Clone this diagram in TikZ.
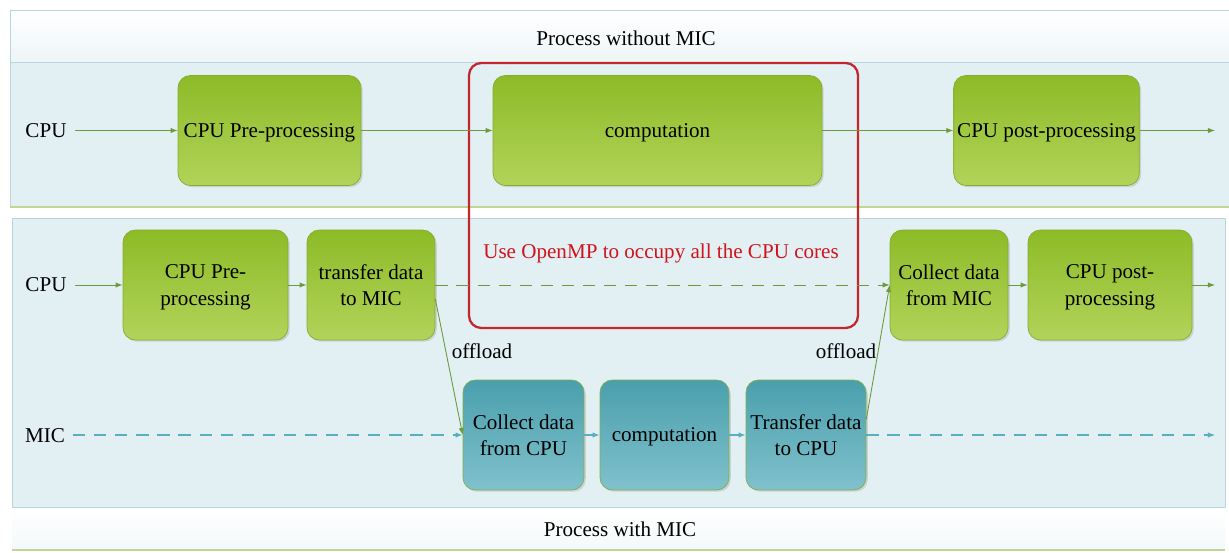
\documentclass[tikz,border=0pt]{standalone}
\usepackage{fontspec}
\setmainfont{Liberation Serif}
\usetikzlibrary{positioning, arrows.meta, calc, shadows}

\definecolor{panelblue}{HTML}{E2EFF3}
\definecolor{panelline}{HTML}{B9D5DD}
\definecolor{cpugreenA}{HTML}{8DBB27}
\definecolor{cpugreenB}{HTML}{B2D35A}
\definecolor{cpuborder}{HTML}{86AC2E}
\definecolor{micA}{HTML}{4A9FAD}
\definecolor{micB}{HTML}{80C1CC}
\definecolor{micborder}{HTML}{7FAF4A}
\definecolor{flowgreen}{HTML}{6E9A3C}
\definecolor{flowteal}{HTML}{58AFC0}
\definecolor{ompred}{HTML}{C2272D}
\definecolor{omptext}{HTML}{D0141E}

\tikzset{
    cpubox/.style={rounded corners=7pt, draw=cpuborder, top color=cpugreenA, bottom color=cpugreenB,
        align=center, minimum height=2.2cm, inner sep=2pt, text depth=0pt,
        drop shadow={opacity=0.25, shadow xshift=1pt, shadow yshift=-1pt}},
    micbox/.style={rounded corners=7pt, draw=micborder, top color=micA, bottom color=micB,
        align=center, minimum height=2.2cm, inner sep=2pt, text depth=0pt,
        drop shadow={opacity=0.25, shadow xshift=1pt, shadow yshift=-1pt}},
    gflow/.style={draw=flowgreen, line width=0.5pt, -{Latex[length=4pt, width=3pt]}},
    tflow/.style={draw=flowteal, line width=0.6pt, dash pattern=on 7pt off 5pt, -{Latex[length=4pt, width=3pt]}},
    rowlabel/.style={inner sep=0pt},
}

\begin{document}
\begin{tikzpicture}[x=0.02cm, y=-0.02cm, font=\fontsize{12}{15}\selectfont]
    \useasboundingbox (0,0) rectangle (1229,553);
    \fill[white] (0,0) rectangle (1229,553);

    % upper panel: process without MIC
    \fill[panelblue] (10,62) rectangle (1229,207);
    \shade[top color=white, bottom color=panelblue!60] (10,10) rectangle (1229,62);
    \draw[panelline] (10,10) rectangle (1229,207);
    \draw[panelline] (10,62) -- (1229,62);
    \draw[cpuborder!50, line width=1pt] (10,207) -- (1229,207);
    \node (title1) at (626,38) {Process without MIC};

    % lower panel: process with MIC
    \fill[panelblue] (12,218) rectangle (1225,507);
    \draw[panelline] (12,218) rectangle (1225,507);
    \shade[top color=white, bottom color=panelblue!40] (12,507) rectangle (1225,550);
    \draw[panelline] (12,507) -- (1225,507);
    \draw[cpuborder!50, line width=1pt] (12,550) -- (1225,550);
    \node (title2) at (620,529) {Process with MIC};

    % OpenMP frame
    \draw[ompred, line width=1.3pt, rounded corners=7pt] (469,63) rectangle (858,328);
    \node[text=omptext] (omp) at (661,253) {Use OpenMP to occupy all the CPU cores};

    % row without MIC
    \node[rowlabel] (cpu1) at (46,131) {CPU};
    \node[cpubox, minimum width=3.66cm] (pre1) at (269.5,130.5) {CPU Pre-processing};
    \node[cpubox, minimum width=6.58cm] (comp1) at (657.5,130.5) {computation};
    \node[cpubox, minimum width=3.62cm] (post1) at (1046.5,130.5) {CPU post-processing};
    \coordinate (start1) at (75,130.5);
    \coordinate (end1) at (1215,130.5);
    \draw[gflow] (start1) -- (pre1);
    \draw[gflow] (pre1) -- (comp1);
    \draw[gflow] (comp1) -- (post1);
    \draw[gflow] (post1) -- (end1);

    % CPU row with MIC
    \node[rowlabel] (cpu2) at (46,285) {CPU};
    \node[cpubox, minimum width=3.3cm] (pre2) at (205.5,285) {CPU Pre-\\processing};
    \node[cpubox, minimum width=2.56cm] (tomic) at (371,285) {transfer data\\to MIC};
    \node[cpubox, minimum width=2.36cm] (frommic) at (949,285) {Collect data\\from MIC};
    \node[cpubox, minimum width=3.28cm] (post2) at (1110,285) {CPU post-\\processing};
    \coordinate (start2) at (75,285);
    \coordinate (end2) at (1215,285);
    \draw[gflow] (start2) -- (pre2);
    \draw[gflow] (pre2) -- (tomic);
    \draw[gflow, dash pattern=on 7pt off 5pt] (tomic) -- (frommic);
    \draw[gflow] (frommic) -- (post2);
    \draw[gflow] (post2) -- (end2);

    % MIC row
    \node[rowlabel] (mic) at (45,436) {MIC};
    \node[micbox, minimum width=2.42cm] (fromcpu) at (523.5,435) {Collect data\\from CPU};
    \node[micbox, minimum width=2.58cm] (comp2) at (664.5,435) {computation};
    \node[micbox, minimum width=2.4cm] (tocpu) at (806,435) {Transfer data\\to CPU};
    \coordinate (start3) at (73,435);
    \coordinate (end3) at (1215,435);
    \draw[tflow] (start3) -- (fromcpu);
    \draw[tflow, solid] (fromcpu) -- (comp2);
    \draw[tflow, solid] (comp2) -- (tocpu);
    \draw[tflow] (tocpu) -- (end3);

    % offload links
    \draw[gflow] ([yshift=-8pt]tomic.east) -- (fromcpu.west);
    \draw[gflow] ([yshift=9pt]tocpu.east) -- (frommic.west);
    \node (off1) at (482,351) {offload};
    \node (off2) at (846,351) {offload};
\end{tikzpicture}
\end{document}
